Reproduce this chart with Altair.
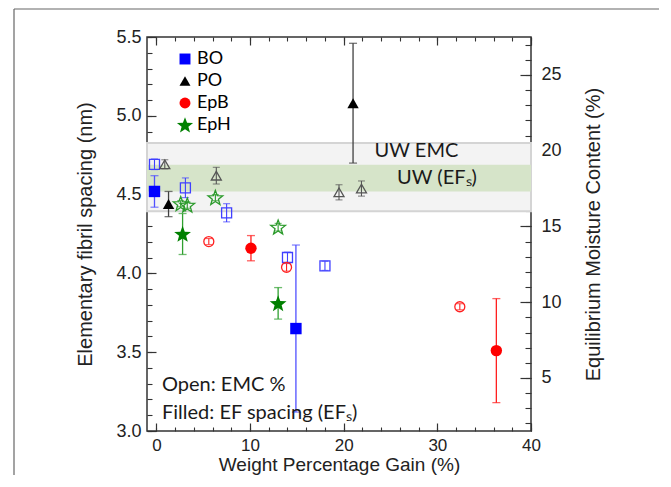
import math
import altair as alt
import pandas as pd

# ---------------- data ----------------
series = ["BO", "PO", "EpB", "EpH"]

# filled symbols: elementary fibril spacing (left axis, nm)
f_series = ["BO", "BO", "PO", "PO", "EpB", "EpB", "EpH", "EpH"]
f_wpg = [-0.2, 14.9, 1.3, 21.0, 10.1, 36.3, 2.8, 13.0]
f_ef = [4.52, 3.65, 4.44, 5.08, 4.16, 3.51, 4.25, 3.81]
f_err = [0.10, 0.53, 0.08, 0.38, 0.08, 0.33, 0.13, 0.10]

# open symbols: equilibrium moisture content (right axis, %)
o_series = ["BO"] * 5 + ["PO"] * 4 + ["EpB"] * 3 + ["EpH"] * 4
o_wpg = [-0.2, 3.1, 7.5, 14.0, 18.0, 0.9, 6.4, 19.5, 21.9, 5.6, 13.9, 32.4, 2.6, 3.3, 6.3, 13.0]
o_emc = [19.1, 17.55, 15.9, 12.95, 12.4, 19.1, 18.35, 17.25, 17.5, 14.0, 12.3, 9.7, 16.5, 16.4, 16.9, 14.95]
o_err = [0.35, 0.65, 0.6, 0.35, 0.3, 0.3, 0.55, 0.5, 0.5, 0.2, 0.25, 0.2, 0.2, 0.2, 0.2, 0.25]

# untreated wood reference bands
uw_emc = [16.0, 20.5]   # % (right axis)
uw_ef = [4.52, 4.69]    # nm (left axis)

note_text = ["Open: EMC %", "Filled: EF spacing (EF\u209b)"]
note_wpg = [0.6, 0.6]
note_ef = [3.29, 3.115]
band_text = ["UW EMC", "UW (EF\u209b)"]
band_wpg = [23.3, 25.7]
band_ef = [4.775, 4.605]

x_dom = [-1, 40]
yl_dom = [3.0, 5.5]
yr_dom = [1.5, 27.5]

x_major = [0, 10, 20, 30, 40]
x_minor = list(range(0, 41, 2))
yl_major = [3.0, 3.5, 4.0, 4.5, 5.0, 5.5]
yl_minor = [round(3.0 + 0.1 * i, 1) for i in range(26)]
yr_major = [5, 10, 15, 20, 25]
yr_minor = list(range(2, 28))

# ---------------- frames ----------------
df_f = pd.DataFrame({"series": f_series, "wpg": f_wpg, "val": f_ef, "err": f_err})
df_f["lo"] = df_f["val"] - df_f["err"]
df_f["hi"] = df_f["val"] + df_f["err"]
df_o = pd.DataFrame({"series": o_series, "wpg": o_wpg, "val": o_emc, "err": o_err})
df_o["lo"] = df_o["val"] - df_o["err"]
df_o["hi"] = df_o["val"] + df_o["err"]

def caps(df):
    a = df[["series", "wpg", "lo"]].rename(columns={"lo": "y"})
    b = df[["series", "wpg", "hi"]].rename(columns={"hi": "y"})
    return pd.concat([a, b], ignore_index=True)

df_fc = caps(df_f)
df_oc = caps(df_o)
df_band_g = pd.DataFrame({"x0": [x_dom[0]], "x1": [x_dom[1]], "lo": [uw_emc[0]], "hi": [uw_emc[1]]})
df_band_e = pd.DataFrame({"x0": [x_dom[0]], "x1": [x_dom[1]], "lo": [uw_ef[0]], "hi": [uw_ef[1]]})
df_note = pd.DataFrame({"t": note_text, "wpg": note_wpg, "val": note_ef})
df_btxt = pd.DataFrame({"t": band_text, "wpg": band_wpg, "val": band_ef})

# star symbol (drawn a bit larger than the unit box so it matches the other symbols)
pts = []
for i in range(10):
    r = 1.55 if i % 2 == 0 else 0.65
    a = -math.pi / 2 + i * math.pi / 5
    pts.append(f"{r*math.cos(a):.3f},{r*math.sin(a) + 0.12:.3f}")
STAR = "M" + "L".join(pts) + "Z"

shape_scale = alt.Scale(domain=series, range=["square", "triangle-up", "circle", STAR])
fill_colors = alt.Scale(domain=series, range=["#0000ff", "#000000", "#ff0000", "#008000"])
ferr_colors = alt.Scale(domain=series, range=["#5050ff", "#404040", "#ff2020", "#30a030"])
open_colors = alt.Scale(domain=series, range=["#4040ff", "#555555", "#ff2020", "#2a9a2a"])

xs = alt.Scale(domain=x_dom, nice=False, zero=False)
yls = alt.Scale(domain=yl_dom, nice=False, zero=False)
yrs = alt.Scale(domain=yr_dom, nice=False, zero=False)

FONT = "Liberation Sans"
TC = "#333333"

def X(field="wpg", axis=None):
    return alt.X(f"{field}:Q", scale=xs, axis=axis)

def YL(field="val", axis=None):
    return alt.Y(f"{field}:Q", scale=yls, axis=axis)

def YR(field="val", axis=None):
    return alt.Y(f"{field}:Q", scale=yrs, axis=axis)

# bands
gray_band = alt.Chart(df_band_g).mark_rect(fill="#f3f3f3", stroke="#d4d4d4", strokeWidth=2).encode(
    x=X("x0"), x2="x1", y=YR("lo"), y2="hi")
green_band = alt.Chart(df_band_e).mark_rect(fill="#d6e4c9").encode(
    x=X("x0"), x2="x1", y=YL("lo"), y2="hi")

# error bars
f_rule = alt.Chart(df_f).mark_rule(strokeWidth=1.3).encode(
    x=X(), y=YL("lo"), y2="hi", color=alt.Color("series:N", scale=ferr_colors, legend=None))
f_caps = alt.Chart(df_fc).mark_tick(orient="horizontal", size=8, thickness=1.3).encode(
    x=X(), y=YL("y"), color=alt.Color("series:N", scale=ferr_colors, legend=None))
o_rule = alt.Chart(df_o).mark_rule(strokeWidth=1.1).encode(
    x=X(), y=YR("lo"), y2="hi", color=alt.Color("series:N", scale=open_colors, legend=None))
o_caps = alt.Chart(df_oc).mark_tick(orient="horizontal", size=7, thickness=1.1).encode(
    x=X(), y=YR("y"), color=alt.Color("series:N", scale=open_colors, legend=None))

open_pts = alt.Chart(df_o).mark_point(filled=False, strokeWidth=1.3, opacity=1, size=100).encode(
    x=X(), y=YR(),
    color=alt.Color("series:N", scale=open_colors, legend=None),
    shape=alt.Shape("series:N", scale=shape_scale, legend=None),
)

leg = alt.Legend(orient="none", legendX=29, legendY=13, labelFont="Lato", symbolSize=120,
                 labelFontSize=18, rowPadding=4, labelOffset=3, symbolStrokeWidth=0)
filled_pts = alt.Chart(df_f).mark_point(filled=True, opacity=1, size=130).encode(
    x=X(), y=YL(),
    color=alt.Color("series:N", scale=fill_colors, title=None, legend=leg),
    shape=alt.Shape("series:N", scale=shape_scale, title=None, legend=leg),
)

notes = alt.Chart(df_note).mark_text(align="left", baseline="middle", font="Lato", fontSize=20,
                                     color="#1a1a1a").encode(x=X(), y=YL(), text="t:N")
band_labels = alt.Chart(df_btxt).mark_text(align="left", baseline="middle", font="Lato", fontSize=20,
                                           color="#1a1a1a").encode(x=X(), y=YL(), text="t:N")

# axes (inward ticks via negative offset)
ax_common = dict(domain=False, grid=False, tickColor=TC, tickWidth=1.2, labelFont=FONT,
                 labelFontSize=18, labelColor="#222222", titleFont=FONT, titleFontSize=20,
                 titleFontWeight="normal", titleColor="#222222", labelFlush=False)

axis_layer1 = alt.Chart(df_f).mark_point(opacity=0).encode(
    x=X(axis=alt.Axis(orient="bottom", values=x_major, tickSize=8, offset=-8, labelPadding=6,
                      title="Weight Percentage Gain (%)", titlePadding=2,
                      **{**ax_common, "titleFontSize": 19, "labelFontSize": 17})),
    y=YL(axis=alt.Axis(orient="left", values=yl_major, format=".1f", tickSize=9, offset=-9,
                       labelPadding=6, title="Elementary fibril spacing (nm)", titlePadding=20,
                       **ax_common)),
)
axis_layer2 = alt.Chart(df_f).mark_point(opacity=0).encode(
    x=X(axis=alt.Axis(orient="bottom", values=x_minor, tickSize=4, offset=-4, labels=False,
                      title=None, domain=False, grid=False, tickColor=TC, tickWidth=1.1)),
    y=YL(axis=alt.Axis(orient="left", values=yl_minor, tickSize=5, offset=-5, labels=False,
                       title=None, domain=False, grid=False, tickColor=TC, tickWidth=1.1)),
)
axis_layer3 = alt.Chart(df_o).mark_point(opacity=0).encode(
    x=X(axis=alt.Axis(orient="top", values=x_major, tickSize=8, offset=-8, labels=False,
                      title=None, domain=False, grid=False, tickColor=TC, tickWidth=1.2)),
    y=YR(axis=alt.Axis(orient="right", values=yr_major, tickSize=11, offset=-11, labelPadding=10,
                       title="Equilibrium Moisture Content (%)", titleAngle=270,
                       titleBaseline="top", titlePadding=22, **ax_common)),
)
axis_layer4 = alt.Chart(df_o).mark_point(opacity=0).encode(
    x=X(axis=alt.Axis(orient="top", values=x_minor, tickSize=4, offset=-4, labels=False,
                      title=None, domain=False, grid=False, tickColor=TC, tickWidth=1.1)),
    y=YR(axis=alt.Axis(orient="right", values=yr_minor, tickSize=6, offset=-6, labels=False,
                       title=None, domain=False, grid=False, tickColor=TC, tickWidth=1.1)),
)

# outer figure frame (decoration of the original figure)
frame_top = alt.Chart(df_band_g).mark_rule(color="#666666", strokeWidth=1.2, clip=False).encode(
    x=alt.value(-133), x2=alt.value(530), y=alt.value(-28))
frame_left = alt.Chart(df_band_g).mark_rule(color="#666666", strokeWidth=1.2, clip=False).encode(
    x=alt.value(-133), y=alt.value(-28), y2=alt.value(470))

chart = alt.layer(
    gray_band, green_band, f_rule, f_caps, o_rule, o_caps, open_pts, filled_pts, notes, band_labels,
    axis_layer1, axis_layer2, axis_layer3, axis_layer4, frame_top, frame_left,
).resolve_scale(
    y="independent", color="independent", shape="independent"
).resolve_axis(
    x="independent", y="independent"
).properties(
    width=384, height=394,
    autosize=alt.AutoSizeParams(type="none"),
    padding={"left": 139, "top": 29, "right": 128, "bottom": 44},
    background="white",
).configure_view(
    stroke="#333333", strokeWidth=1.5
)

chart.save("out.html", embed_options={"renderer": "svg", "actions": False})
